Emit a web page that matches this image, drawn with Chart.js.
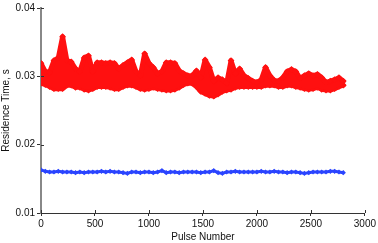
<!DOCTYPE html>
<html lang="en">
<head>
    <meta charset="UTF-8">
    <title>Residence Time vs Pulse Number</title>
    <script src="https://cdn.jsdelivr.net/npm/chart.js"></script>
    <style>
        body {
            margin: 0;
            padding: 0;
            background-color: #ffffff;
        }
        #chart-box {
            width: 378px;
            height: 243px;
        }
    </style>
</head>
<body>
    <div id="chart-box">
        <canvas id="residence-chart" width="378" height="243"></canvas>
    </div>

    <script>
        // pulse numbers (x) shared by all series
        const pulses = [
            0, 40, 80, 120, 160, 200, 240, 280, 320, 360,
            400, 440, 480, 520, 560, 600, 640, 680, 720, 760,
            800, 840, 880, 920, 960, 1000, 1040, 1080, 1120, 1160,
            1200, 1240, 1280, 1320, 1360, 1400, 1440, 1480, 1520, 1560,
            1600, 1640, 1680, 1720, 1760, 1800, 1840, 1880, 1920, 1960,
            2000, 2040, 2080, 2120, 2160, 2200, 2240, 2280, 2320, 2360,
            2400, 2440, 2480, 2520, 2560, 2600, 2640, 2680, 2720, 2760,
            2800
        ];

        // red series: upper and lower edge of the scattered band
        const redUpper = [
            0.0319, 0.0307, 0.0306, 0.0323, 0.0327, 0.0358, 0.0323, 0.0321, 0.0311, 0.0307,
            0.0327, 0.0330, 0.0307, 0.0320, 0.0320, 0.0319, 0.0320, 0.0319, 0.0311, 0.0316,
            0.0320, 0.0324, 0.0307, 0.0301, 0.0333, 0.0319, 0.0313, 0.0304, 0.0307, 0.0320,
            0.0320, 0.0319, 0.0308, 0.0304, 0.0301, 0.0301, 0.0308, 0.0298, 0.0324, 0.0313,
            0.0293, 0.0298, 0.0295, 0.0290, 0.0323, 0.0304, 0.0311, 0.0301, 0.0297, 0.0293,
            0.0291, 0.0295, 0.0313, 0.0301, 0.0294, 0.0293, 0.0298, 0.0307, 0.0310, 0.0307,
            0.0297, 0.0301, 0.0304, 0.0301, 0.0303, 0.0298, 0.0291, 0.0293, 0.0295, 0.0298,
            0.0293
        ];
        const redLower = [
            0.0290, 0.0288, 0.0285, 0.0282, 0.0282, 0.0282, 0.0287, 0.0287, 0.0284, 0.0284,
            0.0281, 0.0280, 0.0282, 0.0285, 0.0285, 0.0285, 0.0284, 0.0282, 0.0282, 0.0285,
            0.0287, 0.0287, 0.0285, 0.0282, 0.0281, 0.0282, 0.0284, 0.0282, 0.0281, 0.0280,
            0.0280, 0.0281, 0.0284, 0.0288, 0.0290, 0.0290, 0.0285, 0.0278, 0.0275, 0.0272,
            0.0271, 0.0274, 0.0278, 0.0280, 0.0281, 0.0284, 0.0285, 0.0285, 0.0285, 0.0285,
            0.0285, 0.0285, 0.0287, 0.0287, 0.0287, 0.0285, 0.0285, 0.0287, 0.0287, 0.0285,
            0.0284, 0.0282, 0.0281, 0.0282, 0.0284, 0.0281, 0.0280, 0.0280, 0.0282, 0.0285,
            0.0287
        ];

        // blue series
        const blueValues = [
            0.0163, 0.0161, 0.0160, 0.0160, 0.0161, 0.0160, 0.0160, 0.0160, 0.0159, 0.0160,
            0.0159, 0.0160, 0.0160, 0.0160, 0.0161, 0.0160, 0.0161, 0.0160, 0.0160, 0.0159,
            0.0158, 0.0160, 0.0160, 0.0159, 0.0160, 0.0160, 0.0159, 0.0160, 0.0162, 0.0159,
            0.0160, 0.0160, 0.0159, 0.0160, 0.0160, 0.0160, 0.0160, 0.0159, 0.0160, 0.0160,
            0.0162, 0.0159, 0.0158, 0.0160, 0.0160, 0.0161, 0.0160, 0.0160, 0.0160, 0.0160,
            0.0160, 0.0161, 0.0160, 0.0160, 0.0161, 0.0160, 0.0160, 0.0159, 0.0160, 0.0160,
            0.0159, 0.0158, 0.0159, 0.0160, 0.0160, 0.0160, 0.0160, 0.0161, 0.0161, 0.0160,
            0.0159
        ];

        const xTicks = [0, 500, 1000, 1500, 2000, 2500, 3000];
        const yTicks = [0.01, 0.02, 0.03, 0.04];

        function toPoints(values) {
            return pulses.map((p, i) => ({ x: p, y: values[i] }));
        }

        const RED = '#ff1010';
        const BLUE = '#2a44ff';
        const FONT = { family: 'Liberation Sans, Arial', size: 10 };

        // small tick marks that poke into the plot area, like the original
        const innerTicks = {
            id: 'innerTicks',
            afterDatasetsDraw(chart) {
                const ctx = chart.ctx;
                const xs = chart.scales.x;
                const ys = chart.scales.y;
                const area = chart.chartArea;
                ctx.save();
                ctx.strokeStyle = '#333';
                ctx.lineWidth = 1;
                ctx.beginPath();
                xTicks.forEach(v => {
                    const px = Math.round(xs.getPixelForValue(v)) + 0.5;
                    ctx.moveTo(px, area.bottom);
                    ctx.lineTo(px, area.bottom - 3);
                });
                yTicks.forEach(v => {
                    const py = Math.round(ys.getPixelForValue(v)) + 0.5;
                    ctx.moveTo(area.left, py);
                    ctx.lineTo(area.left + 3, py);
                });
                ctx.stroke();
                ctx.restore();
            }
        };

        function redEdge(label, values, fill) {
            return {
                label: label,
                data: toPoints(values),
                borderColor: RED,
                backgroundColor: RED,
                borderWidth: 5,
                borderJoinStyle: 'round',
                borderCapStyle: 'round',
                fill: fill,
                pointStyle: 'rectRot',
                pointRadius: 3.4,
                pointBackgroundColor: RED,
                pointBorderColor: RED,
                pointBorderWidth: 0,
                tension: 0
            };
        }

        const ctx = document.getElementById('residence-chart').getContext('2d');
        const chart = new Chart(ctx, {
            type: 'line',
            data: {
                datasets: [
                    redEdge('upper', redUpper, '+1'),
                    redEdge('lower', redLower, false),
                    {
                        label: 'blue',
                        data: toPoints(blueValues),
                        borderColor: BLUE,
                        backgroundColor: BLUE,
                        borderWidth: 3,
                        borderJoinStyle: 'round',
                        fill: false,
                        pointStyle: 'rectRot',
                        pointRadius: 2.6,
                        pointBackgroundColor: BLUE,
                        pointBorderColor: BLUE,
                        pointBorderWidth: 0,
                        tension: 0
                    }
                ]
            },
            options: {
                responsive: false,
                devicePixelRatio: 1,
                animation: false,
                layout: {
                    padding: { top: 5, right: 13, left: 0, bottom: 0 }
                },
                plugins: {
                    legend: { display: false },
                    tooltip: { enabled: false }
                },
                scales: {
                    x: {
                        type: 'linear',
                        min: 0,
                        max: 3000,
                        afterFit: scale => { scale.height = 30; },
                        afterBuildTicks: scale => {
                            scale.ticks = xTicks.map(v => ({ value: v }));
                        },
                        ticks: {
                            color: '#111',
                            font: FONT,
                            padding: 2,
                            maxRotation: 0,
                            callback: v => String(v)
                        },
                        grid: {
                            drawOnChartArea: false,
                            drawTicks: true,
                            tickLength: 3,
                            color: '#333'
                        },
                        border: { color: '#333', width: 1 },
                        title: {
                            display: true,
                            text: 'Pulse Number',
                            color: '#111',
                            font: FONT,
                            padding: { top: 0, bottom: 0 }
                        }
                    },
                    y: {
                        type: 'linear',
                        min: 0.01,
                        max: 0.04,
                        afterFit: scale => { scale.width = 41; },
                        afterBuildTicks: scale => {
                            scale.ticks = yTicks.map(v => ({ value: v }));
                        },
                        ticks: {
                            color: '#111',
                            font: FONT,
                            padding: 2,
                            callback: v => v.toFixed(2)
                        },
                        grid: {
                            drawOnChartArea: false,
                            drawTicks: true,
                            tickLength: 4,
                            color: '#333'
                        },
                        border: { color: '#888', width: 2 },
                        title: {
                            display: true,
                            text: 'Residence Time, s',
                            color: '#111',
                            font: FONT,
                            padding: { top: 0, bottom: 0 }
                        }
                    }
                }
            },
            plugins: [innerTicks]
        });
    </script>
</body>
</html>
